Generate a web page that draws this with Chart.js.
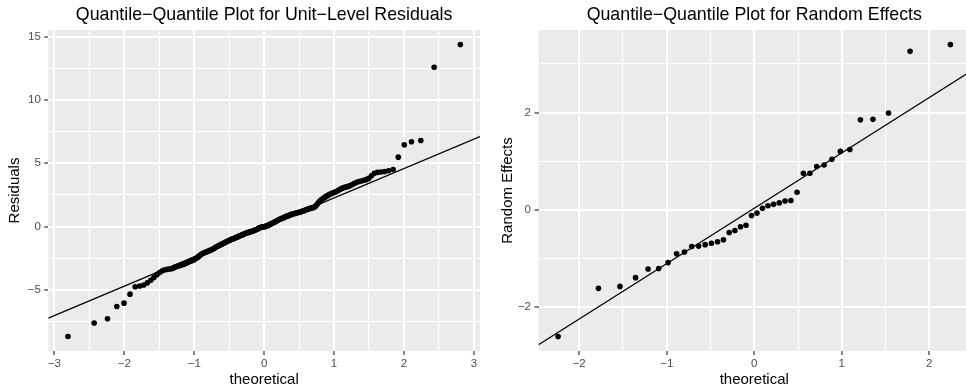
<!DOCTYPE html>
<html>
<head>
<meta charset="utf-8">
<title>Quantile-Quantile Plots</title>
<script src="https://cdn.jsdelivr.net/npm/chart.js@4.4.1/dist/chart.umd.min.js"></script>
<style>
    html, body { margin: 0; padding: 0; background: #ffffff; overflow: hidden; }
    #wrap { position: relative; width: 966px; height: 387px; overflow: hidden; }
    canvas { position: absolute; top: 0; }
    #residChart { left: 0; }
    #reChart { left: 483px; }
</style>
</head>
<body>
<div id="wrap">
    <canvas id="residChart" width="484" height="387"></canvas>
    <canvas id="reChart" width="491" height="387"></canvas>
</div>
<script>
// unit-level residuals: theoretical normal quantiles vs sorted residuals (n = 200)
const residTheoretical = [
    -2.807, -2.432, -2.241, -2.108, -2.005, -1.919, -1.845, -1.780, -1.722, -1.670,
    -1.622, -1.577, -1.535, -1.496, -1.458, -1.423, -1.389, -1.357, -1.326, -1.296,
    -1.268, -1.240, -1.214, -1.188, -1.163, -1.139, -1.115, -1.092, -1.069, -1.047,
    -1.026, -1.005, -0.984, -0.964, -0.945, -0.925, -0.906, -0.887, -0.869, -0.851,
    -0.833, -0.815, -0.798, -0.781, -0.764, -0.747, -0.731, -0.714, -0.698, -0.682,
    -0.667, -0.651, -0.636, -0.620, -0.605, -0.590, -0.576, -0.561, -0.546, -0.532,
    -0.517, -0.503, -0.489, -0.475, -0.461, -0.447, -0.433, -0.419, -0.406, -0.392,
    -0.379, -0.365, -0.352, -0.339, -0.325, -0.312, -0.299, -0.286, -0.273, -0.260,
    -0.247, -0.234, -0.221, -0.208, -0.196, -0.183, -0.170, -0.157, -0.145, -0.132,
    -0.119, -0.107, -0.094, -0.082, -0.069, -0.056, -0.044, -0.031, -0.019, -0.006,
    0.006, 0.019, 0.031, 0.044, 0.056, 0.069, 0.082, 0.094, 0.107, 0.119,
    0.132, 0.145, 0.157, 0.170, 0.183, 0.196, 0.208, 0.221, 0.234, 0.247,
    0.260, 0.273, 0.286, 0.299, 0.312, 0.325, 0.339, 0.352, 0.365, 0.379,
    0.392, 0.406, 0.419, 0.433, 0.447, 0.461, 0.475, 0.489, 0.503, 0.517,
    0.532, 0.546, 0.561, 0.576, 0.590, 0.605, 0.620, 0.636, 0.651, 0.667,
    0.682, 0.698, 0.714, 0.731, 0.747, 0.764, 0.781, 0.798, 0.815, 0.833,
    0.851, 0.869, 0.887, 0.906, 0.925, 0.945, 0.964, 0.984, 1.005, 1.026,
    1.047, 1.069, 1.092, 1.115, 1.139, 1.163, 1.188, 1.214, 1.240, 1.268,
    1.296, 1.326, 1.357, 1.389, 1.423, 1.458, 1.496, 1.535, 1.577, 1.622,
    1.670, 1.722, 1.780, 1.845, 1.919, 2.005, 2.108, 2.241, 2.432, 2.807
];
const residSample = [
    -8.68, -7.62, -7.28, -6.31, -6.05, -5.34, -4.76, -4.70, -4.62, -4.45,
    -4.24, -4.02, -3.80, -3.64, -3.50, -3.42, -3.38, -3.36, -3.33, -3.27,
    -3.19, -3.14, -3.10, -3.05, -3.00, -2.96, -2.90, -2.83, -2.77, -2.72,
    -2.68, -2.62, -2.55, -2.48, -2.40, -2.30, -2.22, -2.15, -2.10, -2.06,
    -2.01, -1.98, -1.94, -1.90, -1.86, -1.82, -1.77, -1.71, -1.66, -1.60,
    -1.56, -1.52, -1.47, -1.43, -1.39, -1.35, -1.31, -1.27, -1.23, -1.19,
    -1.14, -1.10, -1.06, -1.03, -1.00, -0.97, -0.94, -0.91, -0.88, -0.85,
    -0.82, -0.78, -0.74, -0.71, -0.68, -0.65, -0.62, -0.59, -0.56, -0.53,
    -0.50, -0.48, -0.46, -0.44, -0.42, -0.40, -0.37, -0.34, -0.31, -0.28,
    -0.26, -0.23, -0.19, -0.15, -0.11, -0.08, -0.06, -0.04, -0.03, -0.02,
    -0.01, 0.01, 0.03, 0.06, 0.09, 0.13, 0.17, 0.20, 0.23, 0.26,
    0.30, 0.34, 0.38, 0.42, 0.46, 0.50, 0.54, 0.57, 0.60, 0.63,
    0.65, 0.68, 0.72, 0.75, 0.78, 0.81, 0.84, 0.87, 0.90, 0.93,
    0.96, 0.99, 1.01, 1.03, 1.05, 1.07, 1.09, 1.11, 1.13, 1.15,
    1.18, 1.21, 1.24, 1.27, 1.30, 1.33, 1.36, 1.39, 1.42, 1.45,
    1.47, 1.49, 1.52, 1.58, 1.68, 1.80, 1.92, 2.02, 2.10, 2.17,
    2.24, 2.31, 2.38, 2.44, 2.50, 2.56, 2.61, 2.66, 2.70, 2.74,
    2.80, 2.88, 2.95, 3.02, 3.07, 3.11, 3.15, 3.19, 3.26, 3.34,
    3.42, 3.49, 3.55, 3.60, 3.65, 3.70, 3.80, 4.00, 4.20, 4.28,
    4.31, 4.34, 4.40, 4.50, 5.48, 6.45, 6.69, 6.79, 12.58, 14.37
];
// reference line end points (panel edges)
const residLineX = [-3.088, 3.088];
const residLineY = [-7.23, 7.10];

// random effects (n = 40)
const reTheoretical = [
    -2.241, -1.780, -1.534, -1.356, -1.213, -1.092, -0.984, -0.887, -0.798, -0.714,
    -0.636, -0.561, -0.489, -0.419, -0.352, -0.286, -0.221, -0.157, -0.094, -0.031,
    0.031, 0.094, 0.157, 0.221, 0.286, 0.352, 0.419, 0.489, 0.561, 0.636,
    0.714, 0.798, 0.887, 0.984, 1.092, 1.213, 1.356, 1.534, 1.780, 2.241
];
const reSample = [
    -2.61, -1.62, -1.58, -1.40, -1.22, -1.21, -1.09, -0.91, -0.87, -0.76,
    -0.75, -0.72, -0.69, -0.66, -0.62, -0.47, -0.43, -0.35, -0.32, -0.12,
    -0.07, 0.03, 0.08, 0.11, 0.14, 0.18, 0.19, 0.36, 0.75, 0.75,
    0.89, 0.92, 1.04, 1.20, 1.24, 1.85, 1.86, 1.99, 3.26, 3.40
];
const reLineX = [-2.465, 2.465];
const reLineY = [-2.78, 2.84];

// axis ranges and breaks
const residXRange = [-3.088, 3.088];
const residYRange = [-9.83, 15.52];
const residXMajor = [-3, -2, -1, 0, 1, 2, 3];
const residXMinor = [-2.5, -1.5, -0.5, 0.5, 1.5, 2.5];
const residXLabels = ['\u22123', '\u22122', '\u22121', '0', '1', '2', '3'];
const residYMajor = [-5, 0, 5, 10, 15];
const residYMinor = [-7.5, -2.5, 2.5, 7.5, 12.5];
const residYLabels = ['\u22125', '0', '5', '10', '15'];

const reXRange = [-2.465, 2.465];
const reYRange = [-2.91, 3.70];
const reXMajor = [-2, -1, 0, 1, 2];
const reXMinor = [-1.5, -0.5, 0.5, 1.5];
const reXLabels = ['\u22122', '\u22121', '0', '1', '2'];
const reYMajor = [-2, 0, 2];
const reYMinor = [-1, 1, 3];
const reYLabels = ['\u22122', '0', '2'];

const FONT = "'Liberation Sans', Arial, sans-serif";

Chart.defaults.font.family = FONT;

// grey panel behind the grid
const panelFill = {
    id: 'panelFill',
    beforeDraw(chart) {
        const a = chart.chartArea;
        const ctx = chart.ctx;
        ctx.save();
        ctx.fillStyle = '#EBEBEB';
        ctx.fillRect(a.left, a.top, a.right - a.left, a.bottom - a.top);
        ctx.restore();
    }
};

function toPoints(xs, ys) {
    return xs.map((x, i) => ({ x: x, y: ys[i] }));
}

function buildAxis(pos, range, major, minor, labels, titleText, size, titlePad) {
    const all = major.concat(minor).sort((a, b) => a - b);
    const isMajor = c => c.tick && major.includes(c.tick.value);
    return {
        type: 'linear',
        position: pos,
        min: range[0],
        max: range[1],
        afterBuildTicks: scale => {
            scale.ticks = all.map(v => ({ value: v }));
        },
        afterFit: scale => {
            if (pos === 'bottom') scale.height = size;
            else scale.width = size;
        },
        grid: {
            color: '#FFFFFF',
            lineWidth: c => isMajor(c) ? 2 : 1,
            drawTicks: true,
            tickLength: 4,
            tickWidth: 1.2,
            tickColor: c => isMajor(c) ? '#333333' : 'rgba(0,0,0,0)'
        },
        border: { display: false },
        ticks: {
            autoSkip: false,
            maxRotation: 0,
            padding: pos === 'bottom' ? 1.5 : 3.5,
            color: '#4D4D4D',
            font: { size: 11.5 },
            callback: value => {
                const k = major.indexOf(value);
                return k >= 0 ? labels[k] : '';
            }
        },
        title: {
            display: true,
            text: titleText,
            color: '#000000',
            font: { size: 15, lineHeight: 1 },
            padding: pos === 'bottom' ? { top: 0, bottom: 0 } : { top: titlePad, bottom: 0 }
        }
    };
}

function drawQQ(canvasId, cfg) {
    const ctx = document.getElementById(canvasId).getContext('2d');
    new Chart(ctx, {
        type: 'scatter',
        data: {
            datasets: [{
                type: 'line',
                data: toPoints(cfg.lineX, cfg.lineY),
                borderColor: '#000000',
                borderWidth: 1.3,
                pointRadius: 0,
                fill: false
            }, {
                data: toPoints(cfg.xs, cfg.ys),
                backgroundColor: '#000000',
                borderWidth: 0,
                pointRadius: 2.8
            }]
        },
        options: {
            responsive: false,
            animation: false,
            devicePixelRatio: 1,
            layout: { padding: { left: 0, right: cfg.padRight, top: 0, bottom: 0 } },
            plugins: {
                legend: { display: false },
                tooltip: { enabled: false },
                title: {
                    display: true,
                    text: cfg.title,
                    fullSize: false,
                    color: '#000000',
                    font: { size: 17.8, weight: 'normal', lineHeight: 1.2 },
                    padding: { top: 4, bottom: 4.64 }
                }
            },
            scales: {
                x: buildAxis('bottom', cfg.xRange, cfg.xMajor, cfg.xMinor, cfg.xLabels, 'theoretical', 36, 0),
                y: buildAxis('left', cfg.yRange, cfg.yMajor, cfg.yMinor, cfg.yLabels, cfg.yTitle, cfg.yWidth, cfg.yTitlePad)
            }
        },
        plugins: [panelFill]
    });
}

document.addEventListener('DOMContentLoaded', () => {
    drawQQ('residChart', {
        title: 'Quantile\u2212Quantile Plot for Unit\u2212Level Residuals',
        xs: residTheoretical, ys: residSample,
        lineX: residLineX, lineY: residLineY,
        xRange: residXRange, yRange: residYRange,
        xMajor: residXMajor, xMinor: residXMinor, xLabels: residXLabels,
        yMajor: residYMajor, yMinor: residYMinor, yLabels: residYLabels,
        yTitle: 'Residuals', yWidth: 48.3, yTitlePad: 7.5, padRight: 0.7
    });
    drawQQ('reChart', {
        title: 'Quantile\u2212Quantile Plot for Random Effects',
        xs: reTheoretical, ys: reSample,
        lineX: reLineX, lineY: reLineY,
        xRange: reXRange, yRange: reYRange,
        xMajor: reXMajor, xMinor: reXMinor, xLabels: reXLabels,
        yMajor: reYMajor, yMinor: reYMinor, yLabels: reYLabels,
        yTitle: 'Random Effects', yWidth: 55.5, yTitlePad: 17, padRight: 0
    });
});
</script>
</body>
</html>
